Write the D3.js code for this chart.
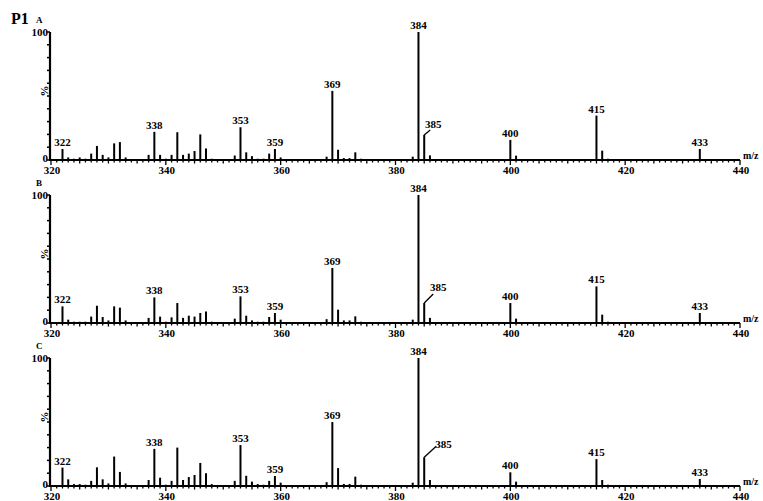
<!DOCTYPE html>
<html><head><meta charset="utf-8">
<script src="https://cdn.jsdelivr.net/npm/d3@7"></script>
<style>html,body{margin:0;padding:0;background:#fff;}svg{display:block;}text{font-family:"Liberation Serif","Times New Roman",serif;font-weight:bold;fill:#000;}</style>
</head><body>
<svg id="chart" width="763" height="501"></svg>
<script>
// ---- data ----
const mz = [322,323,324,325,326,327,328,329,330,331,332,333,334,335,336,337,338,339,340,341,342,343,344,345,346,347,348,349,350,351,352,353,354,355,356,357,358,359,360,368,369,370,371,372,373,374,383,384,385,386,387,400,401,402,415,416,417,433];
const intensityA = [8.6,2,1,2,1,5,11,4,2,13,14,2,0.5,0.5,0.5,4,22,4,1,4,21.7,4,5,7,20,9,1,0.5,0.5,0.5,3.5,25.6,6,3,1,1,5,8.6,2,2.6,54,8,1.5,1.5,6,1,2.6,100,19.6,3.6,0.5,15.7,3.4,0.8,34.7,7.3,1,8.6];
const intensityB = [13,2.6,1,1,1,5,13.5,4.7,2,13,12,2,0.5,0.5,0.5,4,20,5,1,4.4,15.6,4,5.7,5,7.8,9,1,0.5,0.5,0.5,3.4,20.8,5.7,2,1,1,4.7,7.8,2.6,3,43,10.4,2,2,5.2,1,2.6,100,15.6,4,0.5,15.6,3.4,0.8,28.6,6.5,1,7.8];
const intensityC = [14.4,5.2,1.5,1.5,1,4,14.6,5.2,2,23,11,2,0.5,0.5,0.5,4.7,29,6.5,1,4,30,4.7,7,8.6,18,10,1.5,0.5,0.5,0.5,4,32,8,3.4,1.5,1,4,7.8,2.6,3,50,14,1.6,1.6,7.3,1,2.6,100,22.5,4.7,0.5,10.7,3.4,0.8,21,4.7,1,5.5];
const labelledPeaks = [322,338,353,359,369,384,385,400,415,433];
const panelNames = ["A","B","C"];
const xTickLabels = [320,340,360,380,400,420,440];
const yTickLabels = [0,100];
const title = "P1";
const xAxisTitle = "m/z";
const yAxisTitle = "%";

// ---- layout ----
const svg = d3.select("#chart");
svg.append("rect").attr("width",763).attr("height",501).attr("fill","#fff");
const panelTops = [32,195,358];
const panelH = 128;
const leader = [{dx:6,dy:-5,tx:3,ty:-2,anchor:"middle"},{dx:9,dy:-9,tx:5,ty:-3,anchor:"middle"},{dx:12,dy:-11,tx:-1,ty:2,anchor:"start"}];
const x = d3.scaleLinear().domain([320,440]).range([51,740]);
const series = [intensityA,intensityB,intensityC];

svg.append("text").attr("x",11).attr("y",24).attr("font-size",16).text(title);

series.forEach((vals,i)=>{
  const top = panelTops[i];
  const y = d3.scaleLinear().domain([0,100]).range([top+panelH, top]);
  const g = svg.append("g");
  const base = y(0);

  // panel letter
  g.append("text").attr("x",36).attr("y",top-9).attr("font-size",9).text(panelNames[i]);

  // bars
  g.selectAll("line.bar").data(mz.map((m,j)=>({m,v:vals[j]}))).join("line")
    .attr("class","bar")
    .attr("x1",d=>x(d.m)).attr("x2",d=>x(d.m))
    .attr("y1",base).attr("y2",d=>y(d.v))
    .attr("stroke","#000").attr("stroke-width",2);

  // x axis: minor ticks every 1, major labelled every 20
  const minor = d3.range(320,441,1);
  g.selectAll("line.mt").data(minor).join("line")
    .attr("x1",d=>x(d)).attr("x2",d=>x(d))
    .attr("y1",base).attr("y2",d=> d%20===0 ? base+5 : (d%5===0 ? base+3.5 : base+2.5))
    .attr("stroke","#000").attr("stroke-width",1.3);
  g.append("line").attr("x1",x(320)-1).attr("x2",x(440)).attr("y1",base).attr("y2",base)
    .attr("stroke","#000").attr("stroke-width",2.2);
  g.selectAll("text.xl").data(xTickLabels).join("text")
    .attr("x",d=>x(d)+1).attr("y",base+14).attr("text-anchor","middle").attr("font-size",11).text(d=>d);
  g.append("text").attr("x",x(440)+3).attr("y",base-1).attr("font-size",10).text(xAxisTitle);

  // y axis
  const yax = x(320)-1;
  g.append("line").attr("x1",yax).attr("x2",yax).attr("y1",y(100)).attr("y2",base+1)
    .attr("stroke","#000").attr("stroke-width",2.2);
  g.selectAll("line.yt").data(d3.range(0,101,10)).join("line")
    .attr("x1",yax-3).attr("x2",yax).attr("y1",d=>y(d)).attr("y2",d=>y(d))
    .attr("stroke","#000").attr("stroke-width",1.5);
  g.selectAll("text.yl").data(yTickLabels).join("text")
    .attr("x",yax-2).attr("y",d=> d===0 ? y(d)+2 : y(d)+4).attr("text-anchor","end").attr("font-size",11).text(d=>d);
  g.append("text").attr("transform",`translate(${yax-2},${y(54)}) rotate(-90)`)
    .attr("text-anchor","middle").attr("font-size",11).text(yAxisTitle);

  // peak labels
  labelledPeaks.forEach(p=>{
    const v = vals[mz.indexOf(p)];
    const px = x(p), py = y(v);
    if (p===385){
      const L = leader[i];
      g.append("line").attr("x1",px).attr("y1",py).attr("x2",px+L.dx).attr("y2",py+L.dy)
        .attr("stroke","#000").attr("stroke-width",1.3);
      g.append("text").attr("x",px+L.dx+L.tx).attr("y",py+L.dy+L.ty)
        .attr("text-anchor",L.anchor).attr("font-size",11).text(p);
    } else {
      g.append("text").attr("x",px).attr("y",py-3).attr("text-anchor","middle").attr("font-size",11).text(p);
    }
  });
});
</script>
</body></html>
